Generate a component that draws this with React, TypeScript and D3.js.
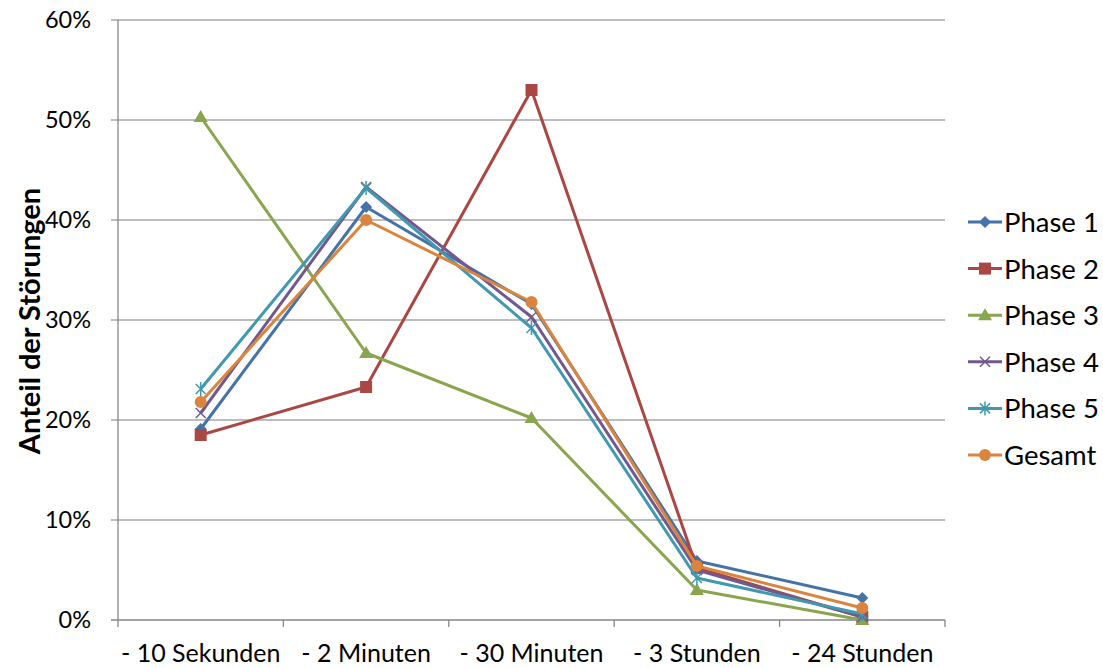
import React from "react";
import * as d3 from "d3";

const categories = ["- 10 Sekunden", "- 2 Minuten", "- 30 Minuten", "- 3 Stunden", "- 24 Stunden"];
const yTicks = [0, 0.1, 0.2, 0.3, 0.4, 0.5, 0.6];

const phase1 = [0.191, 0.413, 0.316, 0.059, 0.022];
const phase2 = [0.185, 0.233, 0.53, 0.052, 0.003];
const phase3 = [0.503, 0.267, 0.202, 0.03, 0.0];
const phase4 = [0.207, 0.433, 0.303, 0.05, 0.003];
const phase5 = [0.231, 0.432, 0.292, 0.042, 0.006];
const gesamt = [0.218, 0.4, 0.318, 0.054, 0.012];

type Marker = "diamond" | "square" | "triangle" | "x" | "star" | "circle";

const seriesList: { name: string; values: number[]; color: string; marker: Marker }[] = [
  { name: "Phase 1", values: phase1, color: "#4572A7", marker: "diamond" },
  { name: "Phase 2", values: phase2, color: "#AA4643", marker: "square" },
  { name: "Phase 3", values: phase3, color: "#89A54E", marker: "triangle" },
  { name: "Phase 4", values: phase4, color: "#71588F", marker: "x" },
  { name: "Phase 5", values: phase5, color: "#4198AF", marker: "star" },
  { name: "Gesamt", values: gesamt, color: "#DB843D", marker: "circle" },
];

const W = 1103;
const H = 668;
const M = { left: 118, right: 945, top: 20, bottom: 620 };
const FONT = "Lato, 'Open Sans', sans-serif";

function MarkerShape({ type, x, y, color }: { type: Marker; x: number; y: number; color: string }) {
  switch (type) {
    case "diamond":
      return <path d={`M${x},${y - 6}L${x + 6},${y}L${x},${y + 6}L${x - 6},${y}Z`} fill={color} />;
    case "square":
      return <rect x={x - 6} y={y - 6} width={12} height={12} fill={color} />;
    case "triangle":
      return <path d={`M${x},${y - 7}L${x + 7},${y + 5}L${x - 7},${y + 5}Z`} fill={color} />;
    case "x":
      return (
        <path
          d={`M${x - 5},${y - 5}L${x + 5},${y + 5}M${x - 5},${y + 5}L${x + 5},${y - 5}`}
          stroke={color}
          strokeWidth={1.5}
        />
      );
    case "star":
      return (
        <path
          d={`M${x - 5},${y - 5}L${x + 5},${y + 5}M${x - 5},${y + 5}L${x + 5},${y - 5}M${x},${y - 7}L${x},${y + 7}`}
          stroke={color}
          strokeWidth={1.5}
        />
      );
    case "circle":
      return <circle cx={x} cy={y} r={6} fill={color} />;
  }
}

export default function App() {
  const x = d3.scaleBand<string>().domain(categories).range([M.left, M.right]);
  const y = d3.scaleLinear().domain([0, 0.6]).range([M.bottom, M.top]);
  const fmt = d3.format(".0%");
  const cx = (c: string) => (x(c) ?? 0) + x.bandwidth() / 2;
  const line = d3
    .line<number>()
    .x((_, i) => cx(categories[i]))
    .y((v) => y(v));

  const boundaries = d3.range(categories.length + 1).map((i) => M.left + i * x.step());

  return (
    <svg width={W} height={H} style={{ position: "absolute", left: 0, top: 0 }}>
      <rect width={W} height={H} fill="#fff" />
      {/* gridlines */}
      {yTicks.map((t) => (
        <line key={t} x1={M.left - 7} x2={M.right} y1={y(t)} y2={y(t)} stroke={t === 0 ? "#868686" : "#a6a6a6"} strokeWidth={1.3} />
      ))}
      {/* y axis */}
      <line x1={M.left} x2={M.left} y1={M.top} y2={M.bottom} stroke="#868686" strokeWidth={1.3} />
      {yTicks.map((t) => (
        <text key={t} x={91} y={y(t)} dy="0.35em" textAnchor="end" fontFamily={FONT} fontSize={23.5} fill="#000">
          {fmt(t)}
        </text>
      ))}
      {/* x axis ticks */}
      {boundaries.map((b, i) => (
        <line key={i} x1={b} x2={b} y1={M.bottom} y2={M.bottom + 7} stroke="#868686" strokeWidth={1.3} />
      ))}
      {categories.map((c) => (
        <text key={c} x={cx(c)} y={662} textAnchor="middle" fontFamily={FONT} fontSize={25} fill="#000">
          {c}
        </text>
      ))}
      <text
        transform={`translate(40,${(M.top + M.bottom) / 2 + 1}) rotate(-90)`}
        textAnchor="middle"
        fontFamily={FONT}
        fontWeight="bold"
        fontSize={29}
        fill="#000"
      >
        Anteil der Störungen
      </text>
      {/* series */}
      {seriesList.map((s) => (
        <g key={s.name}>
          <path d={line(s.values) ?? ""} fill="none" stroke={s.color} strokeWidth={3} strokeLinejoin="round" />
          {s.values.map((v, i) => (
            <MarkerShape key={i} type={s.marker} x={cx(categories[i])} y={y(v)} color={s.color} />
          ))}
        </g>
      ))}
      {/* legend */}
      {seriesList.map((s, i) => {
        const ly = 222 + i * 46.6;
        return (
          <g key={s.name}>
            <line x1={968} x2={1002} y1={ly} y2={ly} stroke={s.color} strokeWidth={3} />
            <MarkerShape type={s.marker} x={985} y={ly} color={s.color} />
            <text x={1004} y={ly} dy="0.36em" fontFamily={FONT} fontSize={27.5} fill="#000">
              {s.name}
            </text>
          </g>
        );
      })}
    </svg>
  );
}
